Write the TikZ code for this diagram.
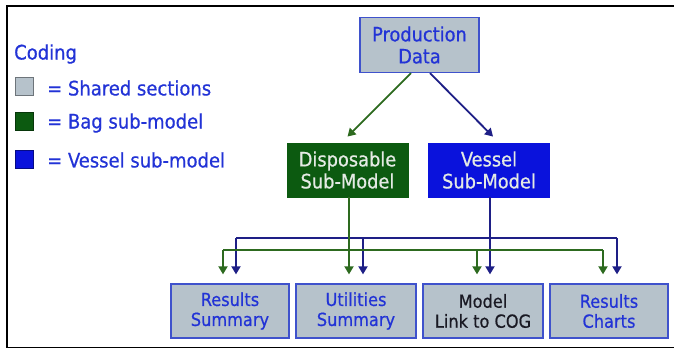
\documentclass[tikz,border=0pt]{standalone}
\usepackage{fontspec}
\setmainfont{DejaVu Sans Condensed}[FakeBold=0.6]
\usetikzlibrary{arrows.meta,calc}
\definecolor{txtblue}{HTML}{2233D6}
\definecolor{boxgray}{HTML}{B6C2CB}
\definecolor{boxedge}{HTML}{3F52CC}
\definecolor{dispgreen}{HTML}{0C5A10}
\definecolor{vessblue}{HTML}{0A12DC}
\definecolor{arrgreen}{HTML}{2D6A1F}
\definecolor{arrblue}{HTML}{1E1F86}
\tikzset{
  graybox/.style={draw=boxedge, line width=1.3pt, fill=boxgray, text=txtblue, align=center, inner sep=0pt, minimum height=54pt},
  topfont/.style={font=\fontsize{19.8}{22}\selectfont},
  botfont/.style={font=\fontsize{18}{20}\selectfont},
  subbox/.style={draw=#1, fill=#1, line width=0.8pt, text={rgb,255:red,228;green,234;blue,228}, align=center, inner sep=0pt, minimum width=121pt, minimum height=54pt, topfont},
  gline/.style={draw=arrgreen, line width=1.8pt},
  bline/.style={draw=arrblue, line width=1.8pt},
  garrow/.style={gline, -{Triangle[width=9pt,length=8pt]}},
  barrow/.style={bline, -{Triangle[width=9pt,length=8pt]}},
  legsq/.style={draw=#1!60!black, fill=#1, line width=0.8pt, minimum size=18pt, inner sep=0pt},
  legtxt/.style={text=txtblue, anchor=west, inner sep=0pt, font=\fontsize{20}{22}\selectfont},
}
\begin{document}
\begin{tikzpicture}[x=1pt,y=-1pt]
\useasboundingbox (0,0) rectangle (674,350);
\draw[line width=1.6pt] (690,6) -- (7,6) -- (7,347.5) -- (690,347.5);
% legend
\node[legtxt] (cod) at (14,54) {Coding};
\node[legsq=boxgray] (sq1) at (24.5,86) {};
\node[legsq=dispgreen] (sq2) at (24.5,121.5) {};
\node[legsq=vessblue] (sq3) at (24.5,159) {};
\node[legtxt] (l1) at (47,88) {= Shared sections};
\node[legtxt] (l2) at (47,123) {= Bag sub-model};
\node[legtxt] (l3) at (47,160) {= Vessel sub-model};
% top
\node[graybox, topfont, minimum width=119pt, minimum height=55pt] (prod) at (419.5,45) {Production\\Data};
\node[subbox=dispgreen] (disp) at (347.5,170) {Disposable\\Sub-Model};
\node[subbox=vessblue] (vess) at (489,170) {Vessel\\Sub-Model};
% bottom
\node[graybox, botfont, minimum width=118pt] (rs) at (230,311) {Results\\Summary};
\node[graybox, botfont, minimum width=120pt] (us) at (356,311) {Utilities\\Summary};
\node[graybox, botfont, minimum width=120pt, text={rgb,255:red,25;green,25;blue,35}] (ml) at (483,311) {Model\\Link to COG};
\node[graybox, botfont, minimum width=118pt] (rc) at (609,311) {Results\\Charts};
% arrows from production
\draw[garrow] ([xshift=-8.5pt]prod.south) -- ([yshift=6pt]disp.north);
\draw[barrow] ([xshift=10.5pt]prod.south) -- ([xshift=4pt,yshift=6pt]vess.north);
% targets
\coordinate (g1) at ([xshift=-7pt,yshift=9pt]rs.north);
\coordinate (g2) at ([xshift=-7pt,yshift=9pt]us.north);
\coordinate (g3) at ([xshift=-6pt,yshift=9pt]ml.north);
\coordinate (g4) at ([xshift=-6pt,yshift=9pt]rc.north);
\coordinate (b1) at ([xshift=6pt,yshift=9pt]rs.north);
\coordinate (b2) at ([xshift=7pt,yshift=9pt]us.north);
\coordinate (b3) at ([xshift=7pt,yshift=9pt]ml.north);
\coordinate (b4) at ([xshift=8pt,yshift=9pt]rc.north);
\coordinate (gbus) at (0,250);
\coordinate (bbus) at (0,238);
% blue bus
\draw[bline] (b1 |- bbus) -- (b4 |- bbus);
\foreach \i in {1,2,4} \draw[barrow] (b\i |- bbus) -- (b\i);
\draw[barrow] (b3 |- vess.south) -- (b3);
% green bus
\draw[gline] (g1 |- gbus) -- (g4 |- gbus);
\foreach \i in {1,3,4} \draw[garrow] (g\i |- gbus) -- (g\i);
\draw[garrow] (g2 |- disp.south) -- (g2);
\end{tikzpicture}
\end{document}
